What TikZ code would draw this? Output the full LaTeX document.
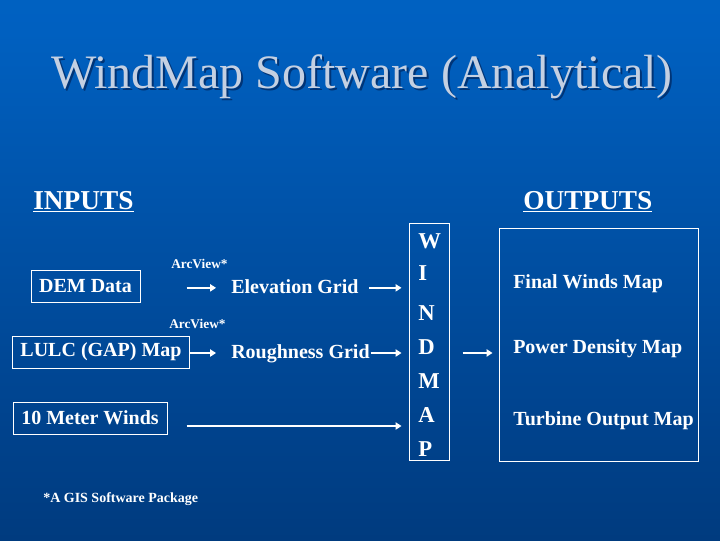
\documentclass[tikz,border=0pt]{standalone}
\usepackage{fontspec}
\setmainfont{Liberation Serif}
\usepackage{tikz}
\usetikzlibrary{positioning,calc}
\usetikzlibrary{arrows.meta}
\definecolor{SlideTop}{RGB}{0,104,206}
\definecolor{SlideMid}{RGB}{0,96,192}
\definecolor{SlideLow}{RGB}{0,66,140}
\definecolor{SlideBot}{RGB}{0,42,94}
\definecolor{TitleGray}{RGB}{196,208,226}
\definecolor{TitleShadow}{RGB}{0,52,118}
\pgfdeclareverticalshading{slidebg}{100bp}{color(0bp)=(SlideBot); color(35bp)=(SlideLow); color(72bp)=(SlideMid); color(100bp)=(SlideTop)}
\tikzset{
  txt/.style={text=white,font=\fontsize{15}{18}\selectfont\bfseries,inner sep=0pt,anchor=base west},
  inbox/.style={draw=white,line width=0.75pt,text=white,font=\fontsize{15}{18}\selectfont\bfseries,
    inner xsep=6pt,minimum height=24pt},
  tool/.style={text=white,font=\fontsize{10}{12}\selectfont\bfseries,inner sep=0pt,anchor=base west},
  head/.style={text=white,font=\fontsize{20.5}{24}\selectfont\bfseries,inner sep=0pt,anchor=base west},
  letter/.style={text=white,font=\fontsize{17}{20}\selectfont\bfseries,inner sep=0pt,anchor=base west},
  arr/.style={draw=white,line width=1.2pt,-{Triangle[length=4.5pt,width=5.5pt]}},
}

\begin{document}
\begin{tikzpicture}[x=0.75pt,y=-0.75pt]
\useasboundingbox (0,0) rectangle (720,540);
\fill[shading=slidebg] (0,0) rectangle (720,540);
% title
\node[text=TitleShadow,font=\fontsize{36}{40}\selectfont,anchor=base] at (364,90) {WindMap Software (Analytical)};
\node[text=TitleGray,font=\fontsize{36}{40}\selectfont,anchor=base] (title) at (362,88) {WindMap Software (Analytical)};
% headings
\node[head] (inputs) at (33,209) {\underline{INPUTS}};
\node[head] (outputs) at (523,209) {\underline{OUTPUTS}};
% inputs
\node[inbox,minimum width=81.75pt] (dem) at (85.5,286.5) {DEM Data};
\node[inbox,minimum width=132pt] (lulc) at (101,352) {LULC (GAP) Map};
\node[inbox,minimum width=115.5pt] (winds) at (90,418) {10 Meter Winds};
\node[tool] (arc1) at (171,268) {ArcView*};
\node[tool] (arc2) at (169,328) {ArcView*};
\node[txt] (elev) at (231,293) {Elevation Grid};
\node[txt] (rough) at (231,358) {Roughness Grid};
% windmap
\node[draw=white,line width=0.75pt,minimum width=30pt,minimum height=177.75pt] (wind) at (429,341.5) {};
\node[letter] (w1) at (418,248) {W};
\node[letter] (w2) at (418,280) {I};
\node[letter] (w3) at (418,320) {N};
\node[letter] (w4) at (418,354) {D};
\node[letter] (w5) at (418,388) {M};
\node[letter] (w6) at (418,422) {A};
\node[letter] (w7) at (418,456) {P};
% outputs
\node[draw=white,line width=0.75pt,minimum width=149.25pt,minimum height=174.75pt] (out) at (598.5,344.5) {};
\node[txt] (fin) at (513,288) {Final Winds Map};
\node[txt] (pow) at (513,353) {Power Density Map};
\node[txt] (turb) at (513,425) {Turbine Output Map};
% arrows
\draw[arr,shorten <=34.5pt,shorten >=11.25pt] ([yshift=-1pt]dem.east) -- ([yshift=-1pt]dem.east -| elev.west);
\draw[arr,shorten >=11.25pt] ([yshift=-0.75pt]lulc.east) -- ([yshift=-0.75pt]lulc.east -| rough.west);
\draw[arr,shorten <=8pt,shorten >=5.25pt] ([yshift=-1pt]dem.east -| elev.east) -- ([yshift=-1pt]dem.east -| wind.west);
\draw[arr,shorten <=0.5pt,shorten >=5.25pt] ([yshift=-0.75pt]lulc.east -| rough.east) -- ([yshift=-0.75pt]lulc.east -| wind.west);
\draw[arr,shorten <=14.25pt,shorten >=5.25pt] ([yshift=-6pt]winds.east) -- ([yshift=-6pt]winds.east -| wind.west);
\draw[arr,shorten <=9.75pt,shorten >=4.5pt] ([yshift=-8.6pt]wind.east) -- ([yshift=-8.6pt]wind.east -| out.west);
% footnote
\node[tool,font=\fontsize{10.5}{12}\selectfont\bfseries] (note) at (43,502) {*A GIS Software Package};
\end{tikzpicture}
\end{document}
